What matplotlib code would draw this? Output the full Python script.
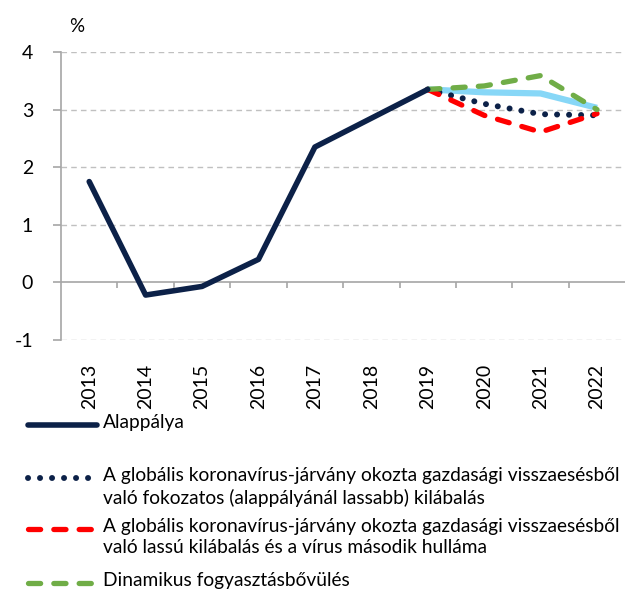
import matplotlib.pyplot as plt
from matplotlib.lines import Line2D

plt.rcParams['font.family'] = ['Lato', 'DejaVu Sans']

years = ['2013', '2014', '2015', '2016', '2017', '2018', '2019', '2020', '2021', '2022']
base = [1.75, -0.22, -0.07, 0.40, 2.35, 2.85, 3.35]
base_fc = [3.35, 3.30, 3.28, 3.03]
gradual = [3.35, 3.10, 2.92, 2.90]
second_wave = [3.35, 2.90, 2.61, 2.93]
dynamic = [3.35, 3.41, 3.59, 3.00]
labels = ['Alappálya',
          'A globális koronavírus-járvány okozta gazdasági visszaesésből\nvaló fokozatos (alappályánál lassabb) kilábalás',
          'A globális koronavírus-járvány okozta gazdasági visszaesésből\nvaló lassú kilábalás és a vírus második hulláma',
          'Dinamikus fogyasztásbővülés']

navy = '#0c2148'
lblue = '#87d7f7'
red = '#ff0000'
green = '#70ad47'
grey = '#a6a6a6'

dot = dict(lw=4.3, ls=(0, (0.01, 2.0)), dash_capstyle='round')
dash = dict(lw=3.8, ls=(0, (2.3, 2.5)), dash_capstyle='round')

fig = plt.figure(figsize=(6.38, 5.92), dpi=100)
ax = fig.add_axes([0.0956, 0.4257, 0.8844, 0.4865])

x = list(range(len(years)))
fx = x[6:]
ax.plot(fx, base_fc, color=lblue, lw=4.5, solid_capstyle='butt')
ax.plot(fx, gradual, color=navy, **dot)
ax.plot(fx, second_wave, color=red, **dash)
ax.plot(fx, dynamic, color=green, **dash)
ax.plot(x[:7], base, color=navy, lw=4, solid_capstyle='round', solid_joinstyle='round')

ax.set_xlim(-0.5, 9.5)
ax.set_ylim(-1, 4)
ax.set_yticks([-1, 0, 1, 2, 3, 4])
ax.set_yticklabels(['-1', '0', '1', '2', '3', '4'], fontsize=14)
for yv in [-1, 1, 2, 3, 4]:
    ax.axhline(yv, color='#c0c0c0', lw=1, ls=(0, (4, 3)), zorder=0)
ax.axhline(0, color=grey, lw=1.2, zorder=1)
ax.vlines([i + 0.5 for i in range(9)], 0, -0.09, color=grey, lw=1.2)
ax.set_xticks(x)
ax.set_xticklabels(years, rotation=90, fontsize=14)
ax.tick_params(axis='x', length=0, pad=17)
ax.tick_params(axis='y', length=6, color=grey, width=1.2, pad=14)
for s in ['top', 'right', 'bottom']:
    ax.spines[s].set_visible(False)
ax.spines['left'].set_color(grey)
ax.spines['left'].set_linewidth(1.2)
fig.text(77 / 638, 1 - 27 / 592, '%', fontsize=13.5, ha='center', va='center')

# legend
W, H = 638, 592
entries = [
    (425, dict(color=navy, lw=4, solid_capstyle='round')),
    (478, dict(color=navy, **dot)),
    (529, dict(color=red, **dash)),
    (583, dict(color=green, **dash)),
]
for (yp, st), lab in zip(entries, labels):
    fig.add_artist(Line2D([28 / W, 97 / W], [1 - yp / H, 1 - yp / H], **st))
    fig.text(103 / W, 1 - (yp - 11) / H, lab, fontsize=13.8, ha='left', va='top',
             linespacing=1.3)

fig.savefig('out.png', dpi=100)
